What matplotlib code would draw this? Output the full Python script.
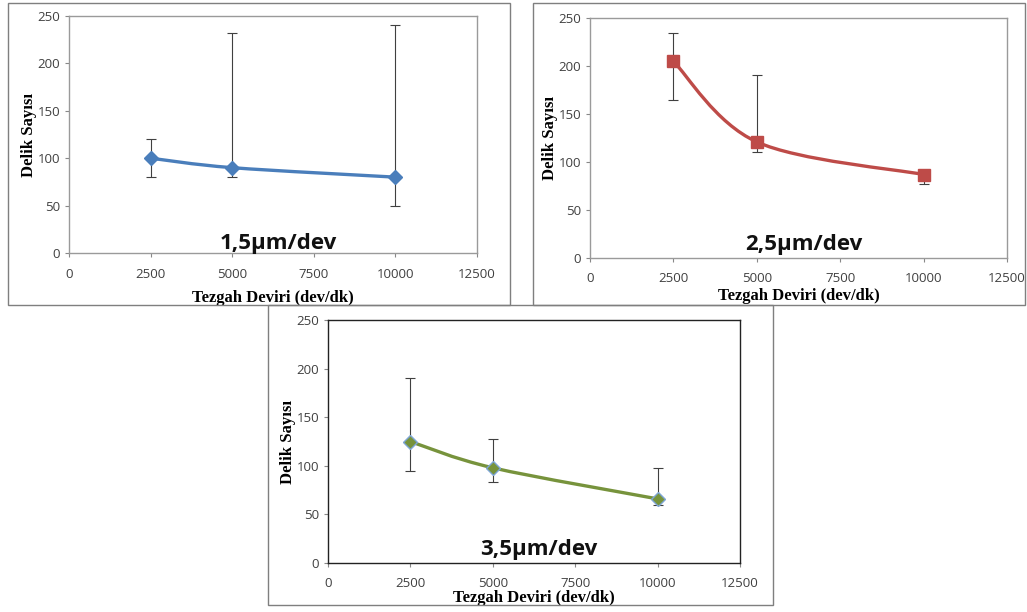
import numpy as np
import matplotlib.pyplot as plt
from matplotlib.path import Path
from matplotlib.patches import PathPatch, Rectangle

# data
rpm = [2500, 5000, 10000]

feed_labels = ["1,5µm/dev", "2,5µm/dev", "3,5µm/dev"]
holes_15 = [100, 90, 80]
upper_15 = [120, 232, 240]
lower_15 = [80, 80, 50]

holes_25 = [205, 121, 87]
upper_25 = [235, 191, 89]
lower_25 = [165, 111, 77]

holes_35 = [125, 98, 66]
upper_35 = [190, 128, 98]
lower_35 = [95, 83, 60]

x_ticks = [0, 2500, 5000, 7500, 10000, 12500]
y_ticks = [0, 50, 100, 150, 200, 250]


def smooth_path(x, y):
    # catmull-rom style bezier through the points (like excel's smoothed line)
    pts = np.column_stack([x, y]).astype(float)
    verts = [pts[0]]
    codes = [Path.MOVETO]
    n = len(pts)
    for i in range(n - 1):
        p0 = pts[max(i - 1, 0)]
        p1 = pts[i]
        p2 = pts[i + 1]
        p3 = pts[min(i + 2, n - 1)]
        c1 = p1 + (p2 - p0) / 6
        c2 = p2 - (p3 - p1) / 6
        verts += [c1, c2, p2]
        codes += [Path.CURVE4] * 3
    return Path(verts, codes)


def draw_panel(fig, rect, holes, upper, lower, color, marker, msize, mec,
               label, spine_color, tick_pad, xpad, label_y):
    ax = fig.add_axes(rect)
    yerr = [np.array(holes) - np.array(lower), np.array(upper) - np.array(holes)]
    ax.errorbar(rpm, holes, yerr=yerr, fmt='none', ecolor='#404040',
                elinewidth=0.8, capsize=3.5, capthick=0.8, zorder=2)
    ax.add_patch(PathPatch(smooth_path(rpm, holes), facecolor='none',
                           edgecolor=color, lw=2.4, zorder=3))
    ax.plot(rpm, holes, linestyle='none', marker=marker, ms=msize,
            color=color, mec=mec, mew=1.0, zorder=4)
    ax.set_xlim(0, 12500)
    ax.set_ylim(0, 250)
    ax.set_xticks(x_ticks)
    ax.set_yticks(y_ticks)
    ax.tick_params(axis='both', length=3, color='#888888', labelsize=9.5,
                   labelcolor='#404040', direction='out')
    ax.tick_params(axis='x', pad=tick_pad)
    for tl in ax.get_xticklabels() + ax.get_yticklabels():
        tl.set_family('Open Sans')
    for s in ax.spines.values():
        s.set_color(spine_color)
        s.set_linewidth(1.0)
    ax.set_xlabel("Tezgah Deviri (dev/dk)", family='Liberation Serif',
                  fontweight='bold', fontsize=12, labelpad=xpad)
    ax.set_ylabel("Delik Sayısı", family='Liberation Serif',
                  fontweight='bold', fontsize=12, labelpad=0)
    ax.text(6400, label_y, label, ha='center', va='center', fontsize=16,
            fontweight='bold', family='Open Sans', color='#111111')
    return ax


fig = plt.figure(figsize=(10.27, 6.12), dpi=100)

# outer frames of each chart
for x0, y0, w, h in [(0.0078, 0.5016, 0.4888, 0.4935),
                     (0.519, 0.5016, 0.479, 0.4935),
                     (0.261, 0.0114, 0.4917, 0.4902)]:
    fig.add_artist(Rectangle((x0, y0), w, h, transform=fig.transFigure,
                             facecolor='none', edgecolor='#7f7f7f', lw=1.0))

draw_panel(fig, [0.0672, 0.5866, 0.3973, 0.3873], holes_15, upper_15, lower_15,
           '#4a7ebb', 'D', 7, '#4a7ebb', feed_labels[0], '#9a9a9a', 8, 6, 10)
draw_panel(fig, [0.5745, 0.5784, 0.406, 0.392], holes_25, upper_25, lower_25,
           '#be4b48', 's', 9, '#be4b48', feed_labels[1], '#9a9a9a', 7, 2, 14)
draw_panel(fig, [0.3194, 0.080, 0.4012, 0.397], holes_35, upper_35, lower_35,
           '#77933c', 'D', 7, '#7ea6d6', feed_labels[2], '#222222', 7, 0, 14)

fig.savefig("out.png", dpi=100)
